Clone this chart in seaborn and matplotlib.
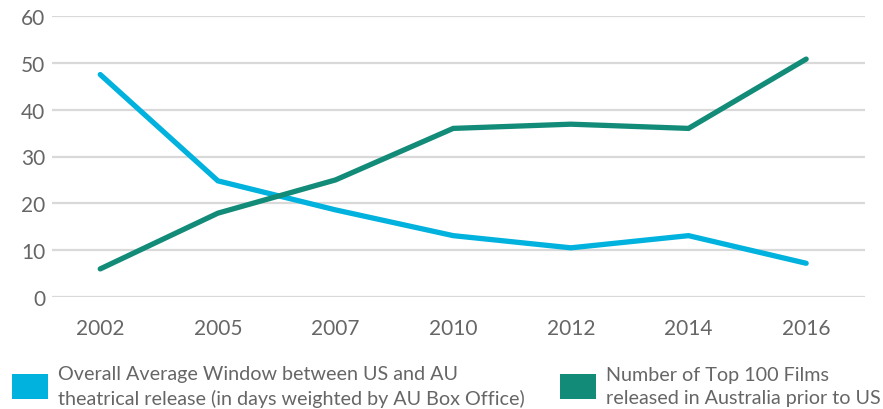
import pandas as pd
import matplotlib.pyplot as plt
import seaborn as sns
from matplotlib.patches import Patch

# ── Data ───────────────────────────────────────────────────────────────────
years = ['2002', '2005', '2007', '2010', '2012', '2014', '2016']
avg_window = [47.5, 24.8, 18.6, 13.1, 10.5, 13.1, 7.2]
films_prior = [6, 17.9, 25, 36, 36.9, 36, 50.8]
series_names = [
    'Overall Average Window between US and AU\ntheatrical release (in days weighted by AU Box Office)',
    'Number of Top 100 Films\nreleased in Australia prior to US',
]
colors = ['#00B2DD', '#128C79']

df = pd.DataFrame({
    'year': years * 2,
    'value': avg_window + films_prior,
    'series': [series_names[0]] * len(years) + [series_names[1]] * len(years),
})

# ── Style ──────────────────────────────────────────────────────────────────
sns.set_theme(style='white')
plt.rcParams['font.family'] = ['Lato', 'DejaVu Sans']
text_color = '#666666'

fig = plt.figure(figsize=(8.83, 4.10), dpi=100)
ax = fig.add_axes([52 / 883, 1 - 298 / 410, (865 - 52) / 883, (298 - 17) / 410])

sns.lineplot(data=df, x='year', y='value', hue='series', palette=colors,
             linewidth=3.8, ax=ax, legend=False, sort=False,
             solid_capstyle='round', solid_joinstyle='miter')

ax.set_xlim(-0.41, 6.5)
ax.set_ylim(0, 60)
ax.set_yticks(range(0, 61, 10))
ax.grid(axis='y', color='#d9d9d9', linewidth=1.6)
ax.set_axisbelow(True)
for s in ax.spines.values():
    s.set_visible(False)
ax.set_xlabel('')
ax.set_ylabel('')
ax.tick_params(axis='both', length=0, labelsize=15, labelcolor=text_color)
ax.tick_params(axis='y', pad=5)
ax.tick_params(axis='x', pad=15)

# ── Legend (two separate entries, as in the original layout) ───────────────
for i, x0 in enumerate([12 / 883, 560 / 883]):
    leg = fig.legend([Patch(facecolor=colors[i], edgecolor='none')], [series_names[i]],
                     loc='center left', bbox_to_anchor=(x0, 1 - 387 / 410),
                     frameon=False, fontsize=14.2, handlelength=1.8, handleheight=1.55,
                     handletextpad=0.55, borderpad=0, borderaxespad=0)
    for t in leg.get_texts():
        t.set_color(text_color)
        t.set_linespacing(1.4)

fig.savefig('out.png', dpi=100)
